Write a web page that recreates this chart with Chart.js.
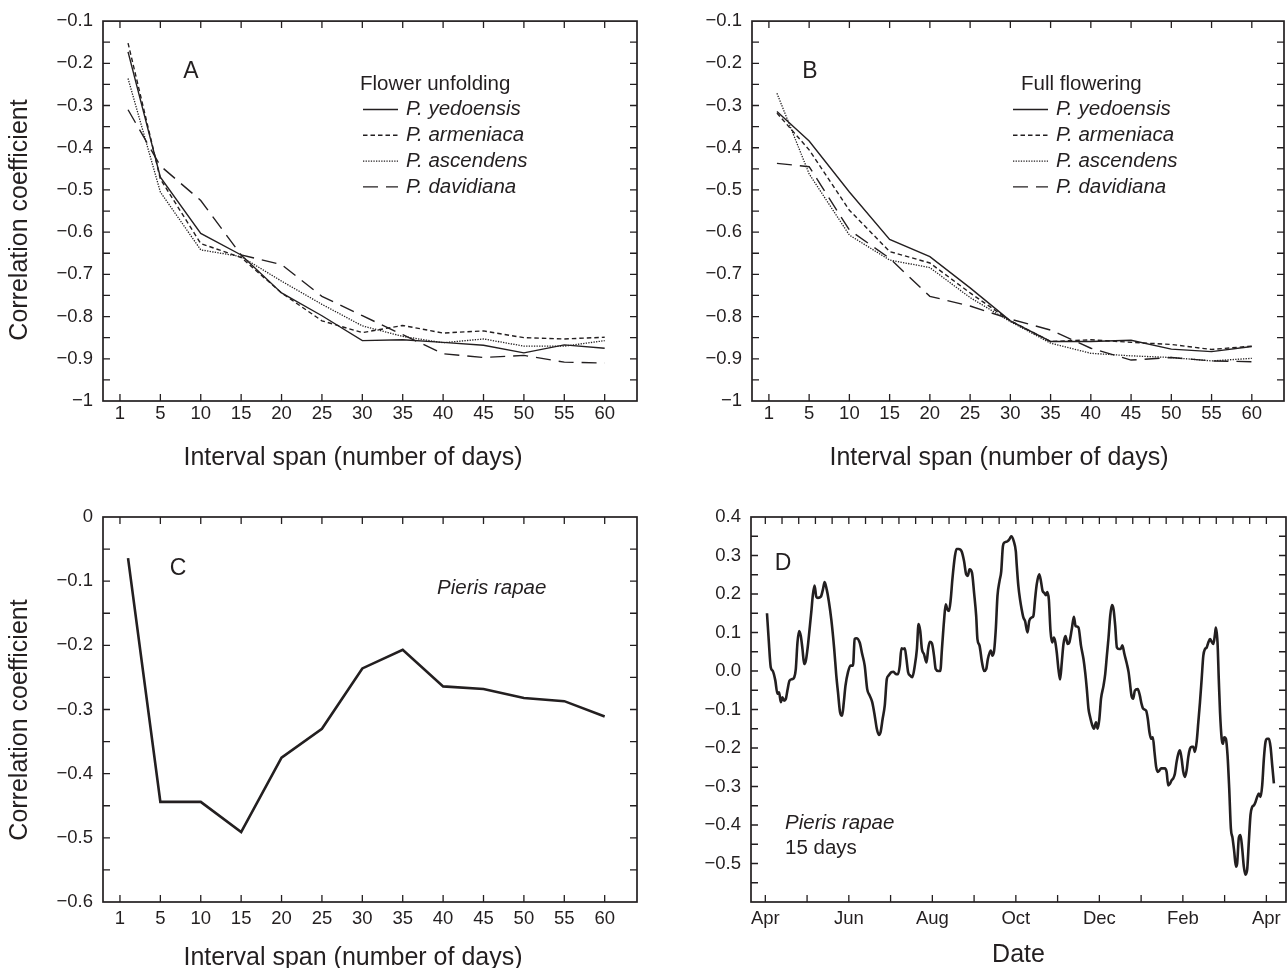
<!DOCTYPE html>
<html>
<head>
<meta charset="utf-8">
<script src="https://cdn.jsdelivr.net/npm/chart.js@4.4.1/dist/chart.umd.min.js"></script>
<style>
  html, body { margin: 0; padding: 0; background: #fff; width: 1288px; height: 968px; overflow: hidden; }
  canvas { position: absolute; }
</style>
</head>
<body>
<canvas id="panelA" width="644" height="484" style="left:0;top:0"></canvas>
<canvas id="panelB" width="644" height="484" style="left:644px;top:0"></canvas>
<canvas id="panelC" width="644" height="500" style="left:0;top:484px"></canvas>
<canvas id="panelD" width="644" height="500" style="left:644px;top:484px"></canvas>
<script>
// ---- data ----
const spanDays = [1, 5, 10, 15, 20, 25, 30, 35, 40, 45, 50, 55, 60];
const spanTickPos = [0, 5, 10, 15, 20, 25, 30, 35, 40, 45, 50, 55, 60];
const spanTickLabels = ['1', '5', '10', '15', '20', '25', '30', '35', '40', '45', '50', '55', '60'];
const speciesNames = ['P. yedoensis', 'P. armeniaca', 'P. ascendens', 'P. davidiana'];

// A: flower unfolding
const unfoldYedoensis = [-0.173, -0.470, -0.603, -0.654, -0.744, -0.798, -0.857, -0.855, -0.861, -0.868, -0.886, -0.867, -0.875];
const unfoldArmeniaca = [-0.152, -0.474, -0.627, -0.660, -0.744, -0.810, -0.838, -0.821, -0.839, -0.834, -0.850, -0.853, -0.849];
const unfoldAscendens = [-0.236, -0.505, -0.642, -0.658, -0.716, -0.771, -0.822, -0.847, -0.862, -0.853, -0.870, -0.870, -0.857];
const unfoldDavidiana = [-0.310, -0.443, -0.525, -0.654, -0.677, -0.752, -0.798, -0.843, -0.888, -0.897, -0.892, -0.908, -0.910];

// B: full flowering
const fullYedoensis = [-0.314, -0.384, -0.505, -0.617, -0.658, -0.732, -0.810, -0.859, -0.859, -0.856, -0.877, -0.883, -0.871];
const fullArmeniaca = [-0.318, -0.405, -0.548, -0.646, -0.673, -0.744, -0.810, -0.859, -0.855, -0.861, -0.866, -0.878, -0.870];
const fullAscendens = [-0.271, -0.462, -0.607, -0.666, -0.684, -0.755, -0.812, -0.863, -0.887, -0.893, -0.897, -0.905, -0.899];
const fullDavidiana = [-0.437, -0.445, -0.595, -0.662, -0.752, -0.775, -0.806, -0.832, -0.875, -0.903, -0.897, -0.905, -0.907];

// C: Pieris rapae vs interval span
const pierisBySpan = [-0.064, -0.444, -0.444, -0.491, -0.375, -0.330, -0.236, -0.207, -0.264, -0.268, -0.282, -0.287, -0.311];

// D: Pieris rapae, 15 day window, through the year (months after 1 April)
const dateMonths = [
  0.04, 0.08, 0.13, 0.18, 0.24, 0.29, 0.33, 0.37, 0.41, 0.45, 0.49, 0.53, 0.58, 0.65, 0.69, 0.73, 0.77, 0.81, 0.85, 0.89,
  0.93, 0.97, 1.01, 1.06, 1.10, 1.14, 1.18, 1.22, 1.26, 1.33, 1.38, 1.42, 1.47, 1.52, 1.58, 1.65, 1.70, 1.74, 1.79, 1.84,
  1.88, 1.92, 1.98, 2.04, 2.10, 2.14, 2.18, 2.26, 2.32, 2.38, 2.44, 2.50, 2.56, 2.62, 2.67, 2.72, 2.76, 2.81, 2.86, 2.91,
  2.95, 3.02, 3.07, 3.13, 3.18, 3.22, 3.26, 3.30, 3.34, 3.38, 3.42, 3.47, 3.52, 3.58, 3.63, 3.67, 3.71, 3.75, 3.80, 3.86,
  3.90, 3.94, 3.99, 4.04, 4.08, 4.14, 4.19, 4.23, 4.28, 4.32, 4.36, 4.40, 4.44, 4.48, 4.54, 4.58, 4.63, 4.70, 4.76, 4.81,
  4.85, 4.89, 4.95, 5.00, 5.05, 5.08, 5.13, 5.19, 5.24, 5.29, 5.33, 5.40, 5.44, 5.48, 5.52, 5.56, 5.61, 5.65, 5.69, 5.73,
  5.80, 5.85, 5.89, 5.95, 6.00, 6.02, 6.06, 6.10, 6.14, 6.18, 6.22, 6.28, 6.32, 6.38, 6.42, 6.46, 6.50, 6.56, 6.60, 6.64,
  6.68, 6.72, 6.75, 6.79, 6.83, 6.87, 6.91, 6.94, 6.98, 7.02, 7.06, 7.10, 7.14, 7.19, 7.24, 7.28, 7.34, 7.39, 7.43, 7.50,
  7.56, 7.62, 7.66, 7.70, 7.74, 7.78, 7.83, 7.87, 7.92, 7.96, 8.00, 8.04, 8.10, 8.14, 8.18, 8.22, 8.26, 8.30, 8.34, 8.38,
  8.42, 8.47, 8.52, 8.55, 8.60, 8.66, 8.70, 8.73, 8.77, 8.81, 8.85, 8.92, 8.97, 9.01, 9.05, 9.12, 9.16, 9.20, 9.24, 9.28,
  9.32, 9.36, 9.40, 9.44, 9.48, 9.53, 9.57, 9.61, 9.65, 9.69, 9.73, 9.77, 9.81, 9.85, 9.89, 9.93, 9.97, 10.01, 10.05, 10.09,
  10.13, 10.17, 10.21, 10.25, 10.29, 10.33, 10.37, 10.41, 10.45, 10.49, 10.53, 10.57, 10.61, 10.65, 10.69, 10.73, 10.77, 10.79, 10.83, 10.86,
  10.89, 10.93, 10.96, 10.99, 11.03, 11.07, 11.11, 11.15, 11.19, 11.23, 11.27, 11.30, 11.34, 11.38, 11.42, 11.46, 11.50, 11.54, 11.58, 11.62,
  11.66, 11.70, 11.74, 11.78, 11.82, 11.86, 11.90, 11.94, 11.98, 12.02, 12.06, 12.10, 12.14, 12.18
];
const corr15Days = [
  0.150, 0.083, 0.010, 0.000, -0.025, -0.059, -0.055, -0.081, -0.068, -0.077, -0.073, -0.050, -0.025, -0.021, -0.017, 0.005, 0.074, 0.104, 0.091, 0.057,
  0.018, 0.027, 0.057, 0.109, 0.152, 0.199, 0.222, 0.193, 0.190, 0.193, 0.212, 0.231, 0.212, 0.182, 0.134, 0.057, -0.012, -0.055, -0.107, -0.116,
  -0.081, -0.038, -0.003, 0.014, 0.014, 0.083, 0.085, 0.074, 0.044, 0.014, -0.047, -0.064, -0.081, -0.116, -0.150, -0.166, -0.159, -0.124, -0.090, -0.021,
  -0.012, -0.003, -0.002, -0.008, -0.008, 0.014, 0.059, 0.057, 0.059, 0.031, -0.003, -0.012, -0.016, 0.014, 0.057, 0.122, 0.104, 0.057, 0.044, 0.022,
  0.057, 0.076, 0.072, 0.040, 0.005, 0.000, 0.000, 0.057, 0.130, 0.173, 0.160, 0.156, 0.186, 0.238, 0.298, 0.317, 0.317, 0.311, 0.285, 0.251,
  0.247, 0.264, 0.255, 0.203, 0.143, 0.083, 0.066, 0.022, 0.000, 0.005, 0.031, 0.053, 0.040, 0.053, 0.109, 0.195, 0.234, 0.259, 0.324, 0.334,
  0.337, 0.343, 0.350, 0.337, 0.310, 0.277, 0.221, 0.186, 0.160, 0.139, 0.130, 0.100, 0.130, 0.139, 0.143, 0.186, 0.225, 0.251, 0.234, 0.208,
  0.203, 0.197, 0.205, 0.186, 0.104, 0.074, 0.087, 0.078, 0.048, 0.005, -0.022, 0.022, 0.070, 0.091, 0.070, 0.074, 0.109, 0.141, 0.117, 0.113,
  0.066, 0.031, -0.003, -0.047, -0.098, -0.120, -0.141, -0.150, -0.133, -0.150, -0.124, -0.072, -0.038, -0.008, 0.040, 0.087, 0.143, 0.171, 0.160, 0.117,
  0.061, 0.057, 0.059, 0.067, 0.044, 0.018, -0.003, -0.029, -0.064, -0.072, -0.051, -0.047, -0.064, -0.085, -0.098, -0.103, -0.124, -0.159, -0.176, -0.172,
  -0.210, -0.249, -0.262, -0.258, -0.253, -0.253, -0.253, -0.262, -0.297, -0.293, -0.284, -0.279, -0.266, -0.236, -0.215, -0.206, -0.228, -0.262, -0.275, -0.258,
  -0.223, -0.202, -0.197, -0.197, -0.210, -0.184, -0.133, -0.081, -0.021, 0.040, 0.057, 0.061, 0.074, 0.083, 0.076, 0.070, 0.096, 0.113, 0.074, -0.021,
  -0.107, -0.176, -0.189, -0.172, -0.176, -0.219, -0.305, -0.409, -0.434, -0.469, -0.508, -0.500, -0.434, -0.426, -0.460, -0.508, -0.529, -0.516, -0.443, -0.374,
  -0.353, -0.349, -0.340, -0.327, -0.318, -0.327, -0.297, -0.228, -0.184, -0.176, -0.176, -0.197, -0.245, -0.292
];
const monthTickPos = [0, 2, 4, 6, 8, 10, 12];
const monthLabels = ['Apr', 'Jun', 'Aug', 'Oct', 'Dec', 'Feb', 'Apr'];

const spanYTicks = [-0.1, -0.2, -0.3, -0.4, -0.5, -0.6, -0.7, -0.8, -0.9, -1];
const spanYLabels = ['\u22120.1', '\u22120.2', '\u22120.3', '\u22120.4', '\u22120.5', '\u22120.6', '\u22120.7', '\u22120.8', '\u22120.9', '\u22121'];
const pierisYTicks = [0, -0.1, -0.2, -0.3, -0.4, -0.5, -0.6];
const pierisYLabels = ['0', '\u22120.1', '\u22120.2', '\u22120.3', '\u22120.4', '\u22120.5', '\u22120.6'];
const dateYTicks = [0.4, 0.3, 0.2, 0.1, 0, -0.1, -0.2, -0.3, -0.4, -0.5];
const dateYLabels = ['0.4', '0.3', '0.2', '0.1', '0.0', '\u22120.1', '\u22120.2', '\u22120.3', '\u22120.4', '\u22120.5'];

// ---- styling ----
const INK = '#231f20';
const FONT = '"Liberation Sans", Arial, Helvetica, sans-serif';
const TITLE_FONT = '25px ' + FONT;
const NOTE_FONT = '20.5px ' + FONT;
const seriesLook = [
  { borderDash: [], borderWidth: 1.4 },
  { borderDash: [4.5, 3], borderWidth: 1.4 },
  { borderDash: [1.3, 1.3], borderWidth: 1.3 },
  { borderDash: [15, 8], borderWidth: 1.4 }
];

function steps(from, to, step) {
  const out = [];
  for (let v = from; v <= to + 1e-9; v += step) out.push(Math.round(v * 1000) / 1000);
  return out;
}

// inward tick marks and frame, per canvas
const frameCfg = {
  panelA: { xTop: spanTickPos, xBottom: spanTickPos, y: steps(-0.95, -0.15, 0.05) },
  panelB: { xTop: spanTickPos, xBottom: spanTickPos, y: steps(-0.95, -0.15, 0.05) },
  panelC: { xTop: spanTickPos, xBottom: spanTickPos, y: steps(-0.55, -0.05, 0.05) },
  panelD: { xTop: steps(0, 12, 0.4), xBottom: steps(0, 12, 1), y: steps(-0.55, 0.35, 0.05) }
};

const spanTitle = 'Interval span (number of days)';
const annotCfg = {
  panelA: {
    texts: [
      { text: 'A', x: 191, y: 72, font: '23px ' + FONT, align: 'center' },
      { text: 'Correlation coefficient', x: 20, y: 220, font: TITLE_FONT, rotate: true },
      { text: spanTitle, x: 353, y: 458, font: TITLE_FONT, align: 'center' },
      { text: 'Flower unfolding', x: 360, y: 84, font: NOTE_FONT }
    ],
    legend: { x: 363, y: 109.5, dy: 25.8, len: 35, gap: 8, font: 'italic ' + NOTE_FONT }
  },
  panelB: {
    texts: [
      { text: 'B', x: 166, y: 72, font: '23px ' + FONT, align: 'center' },
      { text: spanTitle, x: 355, y: 458, font: TITLE_FONT, align: 'center' },
      { text: 'Full flowering', x: 377, y: 84, font: NOTE_FONT }
    ],
    legend: { x: 369, y: 109.5, dy: 25.8, len: 35, gap: 8, font: 'italic ' + NOTE_FONT }
  },
  panelC: {
    texts: [
      { text: 'C', x: 178, y: 85, font: '23px ' + FONT, align: 'center' },
      { text: 'Correlation coefficient', x: 20, y: 236, font: TITLE_FONT, rotate: true },
      { text: spanTitle, x: 353, y: 474, font: TITLE_FONT, align: 'center' },
      { text: 'Pieris rapae', x: 437, y: 104, font: 'italic ' + NOTE_FONT }
    ]
  },
  panelD: {
    texts: [
      { text: 'D', x: 139, y: 80, font: '23px ' + FONT, align: 'center' },
      { text: 'Pieris rapae', x: 141, y: 339, font: 'italic ' + NOTE_FONT },
      { text: '15 days', x: 141, y: 364, font: NOTE_FONT }
    ]
  }
};

const frameTicks = {
  id: 'frameTicks',
  afterDraw(chart) {
    const cfg = frameCfg[chart.canvas.id];
    const { ctx, chartArea: a } = chart;
    const x = chart.scales.x, y = chart.scales.y;
    const len = 7;
    ctx.save();
    ctx.strokeStyle = INK;
    ctx.lineWidth = 1.3;
    ctx.beginPath();
    cfg.xBottom.forEach(v => {
      const px = x.getPixelForValue(v);
      ctx.moveTo(px, a.bottom); ctx.lineTo(px, a.bottom - len);
    });
    cfg.xTop.forEach(v => {
      const px = x.getPixelForValue(v);
      ctx.moveTo(px, a.top); ctx.lineTo(px, a.top + len);
    });
    cfg.y.forEach(v => {
      const py = y.getPixelForValue(v);
      ctx.moveTo(a.left, py); ctx.lineTo(a.left + len, py);
      ctx.moveTo(a.right, py); ctx.lineTo(a.right - len, py);
    });
    ctx.stroke();
    ctx.lineWidth = 1.7;
    ctx.strokeRect(a.left, a.top, a.right - a.left, a.bottom - a.top);
    ctx.restore();
  }
};

const panelNotes = {
  id: 'panelNotes',
  afterDraw(chart) {
    const cfg = annotCfg[chart.canvas.id];
    const ctx = chart.ctx;
    ctx.save();
    ctx.fillStyle = INK;
    ctx.textBaseline = 'middle';
    cfg.texts.forEach(t => {
      ctx.font = t.font;
      if (t.rotate) {
        ctx.save();
        ctx.translate(t.x, t.y);
        ctx.rotate(-Math.PI / 2);
        ctx.textAlign = 'center';
        ctx.fillText(t.text, 0, 0);
        ctx.restore();
      } else {
        ctx.textAlign = t.align || 'left';
        ctx.fillText(t.text, t.x, t.y);
      }
    });
    if (cfg.legend) {
      const L = cfg.legend;
      chart.data.datasets.forEach((ds, i) => {
        const yy = L.y + i * L.dy;
        ctx.strokeStyle = ds.borderColor;
        ctx.lineWidth = ds.borderWidth;
        ctx.setLineDash(ds.borderDash);
        ctx.beginPath();
        ctx.moveTo(L.x, yy);
        ctx.lineTo(L.x + L.len, yy);
        ctx.stroke();
        ctx.setLineDash([]);
        ctx.font = L.font;
        ctx.textAlign = 'left';
        ctx.fillText(ds.label, L.x + L.len + L.gap, yy);
      });
    }
    ctx.restore();
  }
};

function tickFont() { return { family: FONT, size: 18.5 }; }

function spanXScale(pad, xHeight) {
  return {
    type: 'linear', min: -2.1, max: 64,
    afterBuildTicks: s => { s.ticks = spanTickPos.map(v => ({ value: v })); },
    afterFit: s => { s.height = xHeight; },
    ticks: { callback: (v, i) => spanTickLabels[i], color: INK, font: tickFont(), padding: pad, maxRotation: 0, autoSkip: false },
    grid: { display: false, drawTicks: false },
    border: { display: false }
  };
}

function yScale(min, max, vals, labels, width) {
  return {
    type: 'linear', min: min, max: max,
    afterBuildTicks: s => { s.ticks = vals.map(v => ({ value: v })); },
    afterFit: s => { s.width = width; },
    ticks: { callback: (v, i) => labels[i], color: INK, font: tickFont(), padding: 10, autoSkip: false },
    grid: { display: false, drawTicks: false },
    border: { display: false }
  };
}

function speciesSets(series) {
  return series.map((vals, i) => ({
    label: speciesNames[i],
    data: spanDays.map((d, j) => ({ x: d, y: vals[j] })),
    borderColor: INK,
    borderWidth: seriesLook[i].borderWidth,
    borderDash: seriesLook[i].borderDash,
    pointRadius: 0,
    tension: 0,
    fill: false
  }));
}

function baseOptions(padding, scales) {
  return {
    responsive: false,
    animation: false,
    layout: { padding: padding },
    plugins: { legend: { display: false }, tooltip: { enabled: false } },
    scales: scales
  };
}

new Chart(document.getElementById('panelA'), {
  type: 'line',
  data: { datasets: speciesSets([unfoldYedoensis, unfoldArmeniaca, unfoldAscendens, unfoldDavidiana]) },
  options: baseOptions({ left: 0, right: 7, top: 17, bottom: 0 }, {
    x: spanXScale(2, 83),
    y: yScale(-1, -0.1, spanYTicks, spanYLabels, 103)
  }),
  plugins: [frameTicks, panelNotes]
});

new Chart(document.getElementById('panelB'), {
  type: 'line',
  data: { datasets: speciesSets([fullYedoensis, fullArmeniaca, fullAscendens, fullDavidiana]) },
  options: baseOptions({ left: 0, right: 4, top: 17, bottom: 0 }, {
    x: spanXScale(2, 83),
    y: yScale(-1, -0.1, spanYTicks, spanYLabels, 108)
  }),
  plugins: [frameTicks, panelNotes]
});

new Chart(document.getElementById('panelC'), {
  type: 'line',
  data: {
    datasets: [{
      label: 'Pieris rapae',
      data: spanDays.map((d, j) => ({ x: d, y: pierisBySpan[j] })),
      borderColor: INK, borderWidth: 2.6, pointRadius: 0, tension: 0, fill: false
    }]
  },
  options: baseOptions({ left: 0, right: 7, top: 33, bottom: 0 }, {
    x: spanXScale(6, 82),
    y: yScale(-0.6, 0, pierisYTicks, pierisYLabels, 103)
  }),
  plugins: [frameTicks, panelNotes]
});

new Chart(document.getElementById('panelD'), {
  type: 'line',
  data: {
    datasets: [{
      label: 'Pieris rapae, 15 days',
      data: dateMonths.map((m, j) => ({ x: m, y: corr15Days[j] })),
      borderColor: INK, borderWidth: 2.6, pointRadius: 0,
      cubicInterpolationMode: 'monotone', fill: false
    }]
  },
  options: baseOptions({ left: 0, right: 2, top: 33, bottom: 0 }, {
    x: {
      type: 'linear', min: -0.343, max: 12.47,
      afterBuildTicks: s => { s.ticks = monthTickPos.map(v => ({ value: v })); },
      afterFit: s => { s.height = 82; },
      ticks: { callback: (v, i) => monthLabels[i], color: INK, font: tickFont(), padding: 6, maxRotation: 0, autoSkip: false },
      grid: { display: false, drawTicks: false },
      border: { display: false },
      title: { display: true, text: 'Date', color: INK, font: { family: FONT, size: 25 }, padding: { top: 0, bottom: 14 } }
    },
    y: yScale(-0.6, 0.4, dateYTicks, dateYLabels, 107)
  }),
  plugins: [frameTicks, panelNotes]
});
</script>
</body>
</html>
